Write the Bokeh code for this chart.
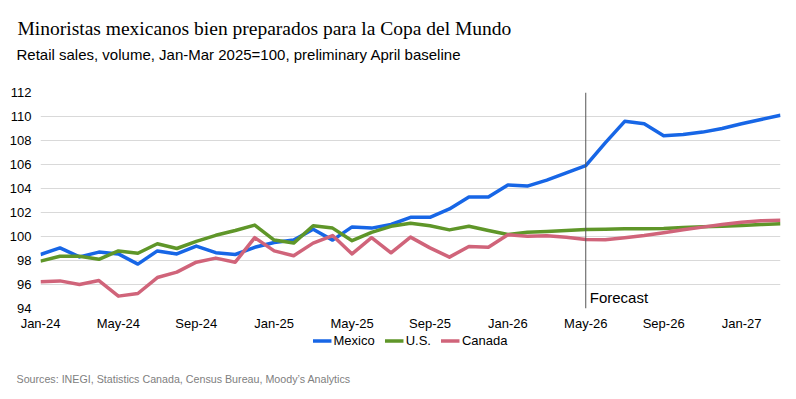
from bokeh.plotting import figure
from bokeh.layouts import column
from bokeh.models import Label, Span, Legend, LegendItem, FixedTicker, Range1d, Title
from bokeh.embed import file_html
from bokeh.resources import INLINE

# ---- data ----
months = ["Jan-24", "Feb-24", "Mar-24", "Apr-24", "May-24", "Jun-24", "Jul-24", "Aug-24",
          "Sep-24", "Oct-24", "Nov-24", "Dec-24",
          "Jan-25", "Feb-25", "Mar-25", "Apr-25", "May-25", "Jun-25", "Jul-25", "Aug-25",
          "Sep-25", "Oct-25", "Nov-25", "Dec-25",
          "Jan-26", "Feb-26", "Mar-26", "Apr-26", "May-26", "Jun-26", "Jul-26", "Aug-26",
          "Sep-26", "Oct-26", "Nov-26", "Dec-26",
          "Jan-27", "Feb-27", "Mar-27"]

mexico = [98.5, 99.05, 98.3, 98.7, 98.55, 97.7, 98.8, 98.55, 99.2, 98.65, 98.5, 99.1,
          99.5, 99.7, 100.6, 99.7, 100.8, 100.7, 101.0, 101.6, 101.6, 102.3, 103.3, 103.3,
          104.3, 104.2, 104.7, 105.3, 105.9, 107.8, 109.6, 109.4, 108.4, 108.5, 108.7, 109.0,
          109.4, 109.75, 110.1]

us = [97.95, 98.35, 98.35, 98.1, 98.8, 98.6, 99.4, 99.0, 99.6, 100.1, 100.5, 100.95,
      99.7, 99.45, 100.9, 100.7, 99.65, 100.35, 100.85, 101.1, 100.9, 100.55, 100.85, 100.5,
      100.17, 100.36, 100.42, 100.5, 100.58, 100.61, 100.64, 100.64, 100.67, 100.75, 100.81, 100.86,
      100.92, 101.0, 101.06]

canada = [96.22, 96.3, 96.0, 96.33, 95.03, 95.25, 96.58, 97.03, 97.86, 98.2, 97.86, 99.9,
          98.8, 98.4, 99.45, 100.08, 98.55, 99.9, 98.64, 99.95, 99.05, 98.28, 99.17, 99.1,
          100.14, 100.03, 100.06, 99.94, 99.75, 99.72, 99.89, 100.08, 100.31, 100.56, 100.78, 101.0,
          101.19, 101.31, 101.36]

series_names = ["Mexico", "U.S.", "Canada"]
tick_months = ["Jan-24", "May-24", "Sep-24", "Jan-25", "May-25", "Sep-25", "Jan-26", "May-26",
               "Sep-26", "Jan-27"]
y_ticks = [94, 96, 98, 100, 102, 104, 106, 108, 110, 112]
forecast_start = "May-26"

title_text = "Minoristas mexicanos bien preparados para la Copa del Mundo"
subtitle_text = "Retail sales, volume, Jan-Mar 2025=100, preliminary April baseline"
source_text = "Sources: INEGI, Statistics Canada, Census Bureau, Moody\u2019s Analytics"

# ---- main chart ----
xs = list(range(len(months)))
SANS = "Liberation Sans"
colors = {"Mexico": "#1766e6", "U.S.": "#5f9629", "Canada": "#d0647a"}
series = {"Mexico": mexico, "U.S.": us, "Canada": canada}

p = figure(frame_width=740, frame_height=216, output_backend="svg", toolbar_location=None,
           title=None,
           x_range=Range1d(0, len(months) - 1), y_range=Range1d(y_ticks[0], y_ticks[-1]),
           min_border_left=40, min_border_right=6, min_border_top=92, min_border_bottom=24)
p.outline_line_color = None
p.background_fill_color = "white"

p.xgrid.grid_line_color = None
p.ygrid.grid_line_color = "#d9d9d9"
p.ygrid.grid_line_width = 1

p.yaxis.ticker = FixedTicker(ticks=y_ticks)
p.xaxis.ticker = FixedTicker(ticks=[months.index(m) for m in tick_months])
p.xaxis.major_label_overrides = {months.index(m): m for m in tick_months}

for ax in (p.xaxis[0], p.yaxis[0]):
    ax.axis_line_color = None
    ax.major_tick_line_color = None
    ax.minor_tick_line_color = None
    ax.major_label_text_font = SANS
    ax.major_label_text_font_size = "13px"
    ax.major_label_text_color = "#000000"
p.yaxis.major_label_standoff = 3
p.xaxis.major_label_standoff = 1

for name in series_names:
    p.line(xs, series[name], line_width=3.5, color=colors[name], line_join="round")

# forecast divider
fx = months.index(forecast_start)
p.add_layout(Span(location=fx, dimension="height", line_color="#555555", line_width=1))
p.add_layout(Label(x=fx, y=11, x_units="data", y_units="screen", x_offset=4,
                   text="Forecast", text_font=SANS, text_font_size="15px",
                   text_color="#000000", text_baseline="alphabetic"))

# titles
p.add_layout(Title(text=subtitle_text, align="left", offset=-24, standoff=54.5,
                   vertical_align="top",
                   text_font=SANS, text_font_size="15px", text_font_style="normal",
                   text_color="#000000"), "above")
p.add_layout(Title(text=title_text, align="left", offset=-23, standoff=-40,
                   vertical_align="bottom",
                   text_font="Liberation Serif", text_font_size="19.5px",
                   text_font_style="normal", text_color="#000000"), "above")

# ---- legend + source strip (frame aligned with the chart above) ----
p2 = figure(frame_width=740, frame_height=40, output_backend="svg", toolbar_location=None,
            x_axis_type=None, y_axis_type=None, x_range=Range1d(0, 1), y_range=Range1d(0, 1),
            min_border_left=40, min_border_right=6, min_border_top=0, min_border_bottom=0)
p2.outline_line_color = None
p2.xgrid.grid_line_color = None
p2.ygrid.grid_line_color = None

items = []
for name in series_names:
    # same series, outside this strip's range: only used for the legend swatch
    r = p2.line(xs, series[name], line_width=3.5, color=colors[name])
    items.append(LegendItem(label=name, renderers=[r]))

legend = Legend(items=items, orientation="horizontal", location="top_center",
                glyph_width=19, glyph_height=13, label_standoff=2, spacing=10,
                padding=0, margin=0, border_line_color=None, background_fill_alpha=0,
                label_text_font=SANS, label_text_font_size="13px", label_text_color="#000000",
                label_height=13)
p2.add_layout(legend, "center")

p2.add_layout(Title(text=source_text, align="left", offset=-24, standoff=-1,
                    vertical_align="top",
                    text_font=SANS, text_font_size="10.7px", text_font_style="normal",
                    text_color="#808080"), "below")

layout = column(p, p2, spacing=0)
open("out.html", "w").write(file_html(layout, INLINE))
